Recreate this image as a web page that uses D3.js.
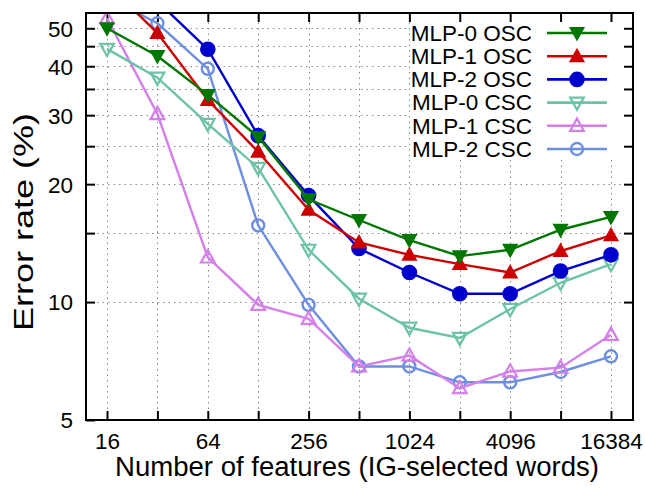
<!DOCTYPE html>
<html>
<head>
<meta charset="utf-8">
<script src="https://cdn.jsdelivr.net/npm/d3@7"></script>
<style>
  body { margin: 0; background: #fff; }
  text { font-family: "Liberation Sans", Arial, Helvetica, sans-serif; fill: #000; }
</style>
</head>
<body>
<svg id="chart" width="645" height="489"></svg>
<script>
// ---- data ----
const features = [16, 32, 64, 128, 256, 512, 1024, 2048, 4096, 8192, 16384];
const xTickLabels = [16, 64, 256, 1024, 4096, 16384];
const yTickLabels = [5, 10, 20, 30, 40, 50];
const yGridValues = [10, 15, 20, 25, 30, 35, 40, 45, 50];

const mlp0OSC = [50.0, 42.5, 33.8, 26.4, 18.3, 16.2, 14.4, 13.1, 13.6, 15.3, 16.5];
const mlp1OSC = [65.0, 48.6, 32.8, 24.2, 17.2, 14.2, 13.2, 12.5, 11.9, 13.5, 14.8];
const mlp2OSC = [72.0, 58.6, 44.2, 26.6, 18.7, 13.7, 11.9, 10.5, 10.5, 12.0, 13.2];
const mlp0CSC = [44.3, 37.4, 28.5, 22.0, 13.6, 10.2, 8.6, 8.1, 9.6, 11.2, 12.5];
const mlp1CSC = [53.0, 30.2, 13.0, 9.84, 9.06, 6.85, 7.3, 6.03, 6.65, 6.8, 8.25];
const mlp2CSC = [60.0, 51.5, 39.4, 15.7, 9.84, 6.85, 6.85, 6.24, 6.24, 6.63, 7.27];

const seriesNames = ["MLP-0 OSC", "MLP-1 OSC", "MLP-2 OSC", "MLP-0 CSC", "MLP-1 CSC", "MLP-2 CSC"];
const seriesValues = [mlp0OSC, mlp1OSC, mlp2OSC, mlp0CSC, mlp1CSC, mlp2CSC];
const seriesColors = ["#007700", "#cc0000", "#0000cc", "#6cc3a6", "#d480e8", "#6c8fe0"];
const seriesMarkers = ["triDown", "triUp", "circle", "triDown", "triUp", "circle"];
const seriesFilled = [true, true, true, false, false, false];

// ---- layout ----
const svg = d3.select("#chart");
const L = 86, R = 633, T = 13, B = 420;

const x = d3.scaleLog().base(2).domain([Math.pow(2, 3.583), Math.pow(2, 14.437)]).range([L, R]);
const y = d3.scaleLog().domain([5, 54.7]).range([B, T]);

// grid
const grid = svg.append("g").attr("stroke", "#8a8a8a").attr("stroke-width", 1)
  .attr("stroke-dasharray", "1.5,4");
grid.selectAll("line.v").data(features).enter().append("line")
  .attr("x1", d => Math.round(x(d)) + 0.5).attr("x2", d => Math.round(x(d)) + 0.5)
  .attr("y1", B).attr("y2", T);
grid.selectAll("line.h").data(yGridValues).enter().append("line")
  .attr("y1", d => Math.round(y(d)) + 0.5).attr("y2", d => Math.round(y(d)) + 0.5)
  .attr("x1", L).attr("x2", R);

// legend background (covers grid)
svg.append("rect").attr("x", 410).attr("y", T + 1).attr("width", 212).attr("height", 146).attr("fill", "#fff");

// axes ticks
const tickLen = 9;
const xBottom = d3.axisBottom(x).tickValues(features).tickSize(-tickLen)
  .tickFormat(d => xTickLabels.includes(d) ? d : "");
const xTop = d3.axisTop(x).tickValues(features).tickSize(-tickLen).tickFormat("");
const yLeft = d3.axisLeft(y).tickValues([5].concat(yGridValues)).tickSize(-tickLen)
  .tickFormat(d => yTickLabels.includes(d) ? d : "");
const yRight = d3.axisRight(y).tickValues(yGridValues).tickSize(-tickLen).tickFormat("");

function styleAxis(g) {
  g.select(".domain").remove();
  g.selectAll(".tick line").attr("stroke", "#000").attr("stroke-width", 2);
  g.selectAll(".tick text").attr("font-size", 22.5).attr("font-family", "Liberation Sans, Arial, sans-serif");
}
svg.append("g").attr("transform", `translate(0,${B})`).call(xBottom).call(styleAxis)
  .selectAll(".tick text").attr("dy", 0).attr("y", 29);
svg.append("g").attr("transform", `translate(0,${T})`).call(xTop).call(styleAxis);
svg.append("g").attr("transform", `translate(${L},0)`).call(yLeft).call(styleAxis)
  .selectAll(".tick text").attr("x", -13).attr("dy", "0.35em");
svg.append("g").attr("transform", `translate(${R},0)`).call(yRight).call(styleAxis);

// series
svg.append("clipPath").attr("id", "clip").append("rect")
  .attr("x", L).attr("y", T).attr("width", R - L).attr("height", B - T);
const plot = svg.append("g").attr("clip-path", "url(#clip)");

const line = d3.line().x((d, i) => x(features[i])).y(d => y(d));

function markerPath(type, filled) {
  const s = filled ? 8.5 : 7.2;
  if (type === "triUp") return `M0,${-s}L${s * 0.95},${s * 0.7}L${-s * 0.95},${s * 0.7}Z`;
  if (type === "triDown") return `M0,${s}L${s * 0.95},${-s * 0.7}L${-s * 0.95},${-s * 0.7}Z`;
  return null;
}
function drawMarker(g, type, filled, color, cx, cy) {
  if (type === "circle") {
    g.append("circle").attr("cx", cx).attr("cy", cy).attr("r", filled ? 7.8 : 6)
      .attr("fill", filled ? color : "none").attr("stroke", color).attr("stroke-width", filled ? 0 : 2.4);
  } else {
    g.append("path").attr("d", markerPath(type, filled)).attr("transform", `translate(${cx},${cy})`)
      .attr("fill", filled ? color : "none").attr("stroke", color).attr("stroke-width", filled ? 0 : 2.2)
      .attr("stroke-linejoin", "miter");
  }
}

// draw in reverse so OSC series are on top
for (let k = seriesValues.length - 1; k >= 0; k--) {
  const vals = seriesValues[k];
  const g = plot.append("g");
  g.append("path").datum(vals).attr("d", line).attr("fill", "none")
    .attr("stroke", seriesColors[k]).attr("stroke-width", 2.4);
  vals.forEach((v, i) => drawMarker(g, seriesMarkers[k], seriesFilled[k], seriesColors[k], x(features[i]), y(v)));
}

// frame
svg.append("rect").attr("x", L).attr("y", T).attr("width", R - L).attr("height", B - T)
  .attr("fill", "none").attr("stroke", "#000").attr("stroke-width", 2);

// legend
const legend = svg.append("g");
seriesNames.forEach((name, k) => {
  const ly = 33 + k * 23.2;
  legend.append("text").attr("x", 532).attr("y", ly).attr("dy", "0.35em")
    .attr("text-anchor", "end").attr("font-size", 22.5).text(name);
  legend.append("line").attr("x1", 547).attr("x2", 607).attr("y1", ly).attr("y2", ly)
    .attr("stroke", seriesColors[k]).attr("stroke-width", 2.6);
  drawMarker(legend, seriesMarkers[k], seriesFilled[k], seriesColors[k], 577, ly);
});

// axis titles
svg.append("text").attr("x", 357).attr("y", 476).attr("text-anchor", "middle")
  .attr("font-size", 27).attr("textLength", 484).attr("lengthAdjust", "spacingAndGlyphs")
  .text("Number of features (IG-selected words)");
svg.append("text").attr("transform", `translate(33,222) rotate(-90)`)
  .attr("text-anchor", "middle").attr("font-size", 27).attr("textLength", 218)
  .attr("lengthAdjust", "spacingAndGlyphs").text("Error rate (%)");
</script>
</body>
</html>
